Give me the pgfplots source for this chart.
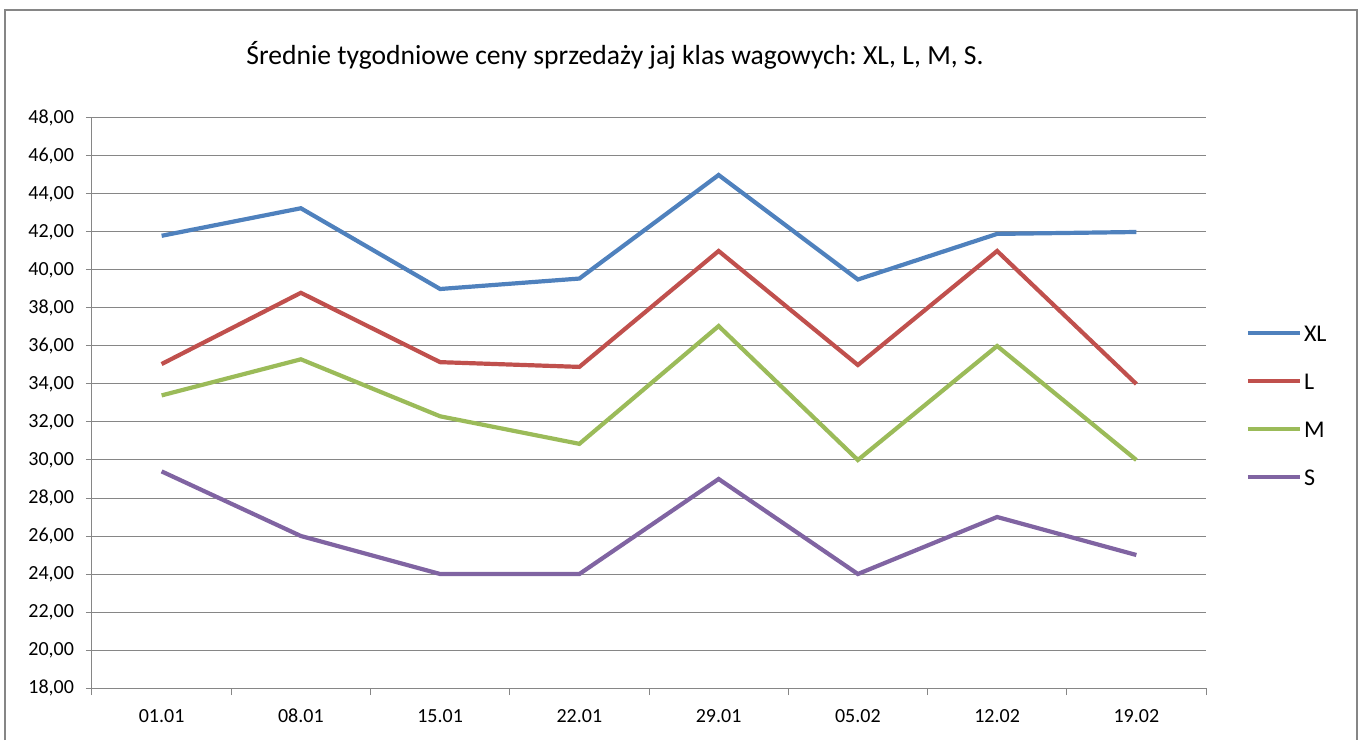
\documentclass[border=0pt]{standalone}
\usepackage{pgfplots}
\pgfplotsset{compat=1.18}
\usepackage{fontspec}
\setmainfont{Carlito}
\frenchspacing

\definecolor{cXL}{HTML}{4F81BD}
\definecolor{cL}{HTML}{C0504D}
\definecolor{cM}{HTML}{9BBB59}
\definecolor{cS}{HTML}{8064A2}
\definecolor{gridc}{HTML}{868686}

\begin{document}
\begin{tikzpicture}
% 1 px of the reference = 0.5pt
\useasboundingbox (0,0) rectangle (680pt,370pt);
\draw[gridc, line width=0.6pt] (2.5pt,0) -- (2.5pt,365pt) -- (678.5pt,365pt) -- (678.5pt,0);
\node[font=\fontsize{13.8}{16}\selectfont, anchor=base] at (307.5pt,337.5pt)
  {Średnie tygodniowe ceny sprzedaży jaj klas wagowych: XL, L, M, S.};
\begin{axis}[
    at={(46pt,26pt)}, anchor=south west,
    scale only axis,
    width=557pt, height=285pt,
    xmin=-0.5, xmax=7.5,
    ymin=18, ymax=48,
    ytick={18,20,...,48},
    xtick={0,...,7},
    xticklabels={01.01,08.01,15.01,22.01,29.01,05.02,12.02,19.02},
    minor xtick={-0.5,0.5,...,7.5},
    axis lines=left,
    axis line style={draw=gridc, line width=0.5pt, -},
    ymajorgrids,
    grid style={draw=gridc, line width=0.5pt},
    tick align=outside,
    major tick length=3pt,
    minor tick length=3.5pt,
    x tick style={draw=none},
    minor x tick style={draw=gridc, line width=0.5pt},
    y tick style={draw=gridc, line width=0.5pt},
    tick label style={font=\fontsize{10}{12}\selectfont},
    xticklabel style={yshift=-4pt},
    yticklabel style={xshift=-2.5pt, /pgf/number format/.cd, fixed, fixed zerofill, precision=2, use comma, assume math mode=true},
    every axis plot/.append style={line width=2.1pt},
    legend style={draw=none, at={(1.03,0.648)}, anchor=north west,
      font=\fontsize{12}{14}\selectfont, row sep=14pt,
      nodes={inner sep=1pt, text height=8pt, text depth=0pt}},
    legend cell align=left,
    legend image code/.code={\draw[#1, line width=2.1pt] (0pt,0pt) -- (26pt,0pt);},
]
\addplot[cXL] coordinates {(0,41.8) (1,43.25) (2,39.0) (3,39.55) (4,45.0) (5,39.5) (6,41.9) (7,42.0)};
\addlegendentry{XL}
\addplot[cL] coordinates {(0,35.05) (1,38.8) (2,35.15) (3,34.9) (4,41.0) (5,35.0) (6,41.0) (7,34.0)};
\addlegendentry{L}
\addplot[cM] coordinates {(0,33.4) (1,35.3) (2,32.3) (3,30.85) (4,37.05) (5,30.0) (6,36.0) (7,30.0)};
\addlegendentry{M}
\addplot[cS] coordinates {(0,29.4) (1,26.0) (2,24.0) (3,24.0) (4,29.0) (5,24.0) (6,27.0) (7,25.0)};
\addlegendentry{S}
\end{axis}
\end{tikzpicture}
\end{document}
